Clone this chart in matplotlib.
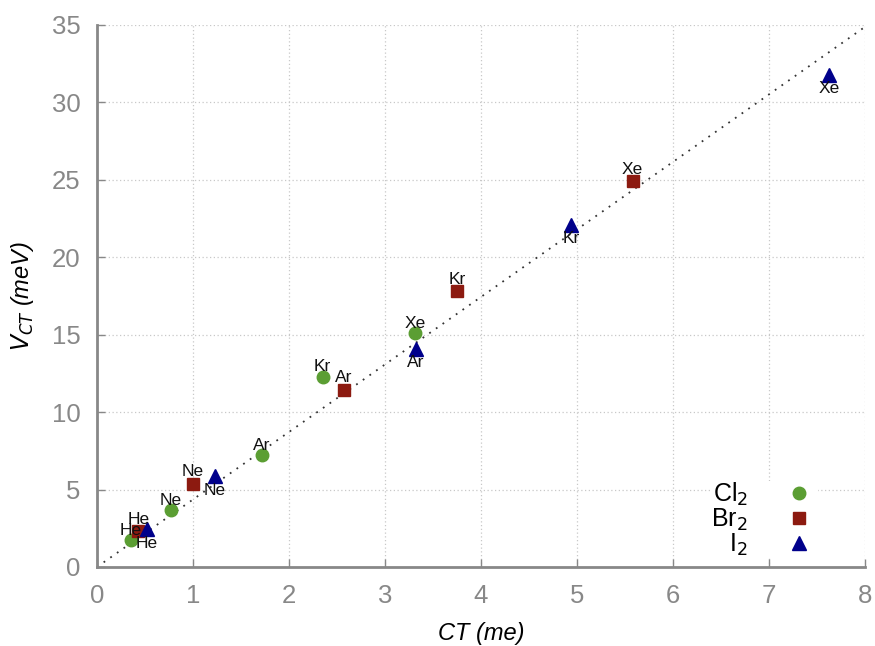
import numpy as np
import matplotlib.pyplot as plt

plt.rcParams['font.family'] = ['Liberation Sans', 'DejaVu Sans']

gases = ['He', 'Ne', 'Ar', 'Kr', 'Xe']

# coupling parameter CT (me) and V_CT (meV) for each halogen
cl2_ct = [0.35, 0.77, 1.72, 2.35, 3.31]
cl2_v = [1.74, 3.68, 7.23, 12.27, 15.1]

br2_ct = [0.43, 1.00, 2.57, 3.75, 5.58]
br2_v = [2.32, 5.36, 11.43, 17.8, 24.9]

i2_ct = [0.52, 1.23, 3.32, 4.94, 7.63]
i2_v = [2.45, 5.87, 14.1, 22.1, 31.8]

# linear fit through the origin
slope = 4.36

fig = plt.figure(figsize=(8.75, 6.46), dpi=100)
ax = fig.add_axes([97 / 875, 1 - 567 / 646, (865 - 97) / 875, (567 - 25) / 646])

xs = np.array([0, 8])
ax.plot(xs, slope * xs, ls=(0, (1, 3.5)), color='#333333', lw=1.3, zorder=1)

series = [
    (cl2_ct, cl2_v, 'o', '#5b9e33', 'Cl$_2$', 9, 10),
    (br2_ct, br2_v, 's', '#8c1a10', 'Br$_2$', 9, 12),
    (i2_ct, i2_v, '^', '#00008b', 'I$_2$', 10, -14),
]
for ct, v, m, c, lab, ms, dy in series:
    ax.plot(ct, v, m, color=c, ms=ms, ls='none', label=lab, zorder=3)
    for g, xx, yy in zip(gases, ct, v):
        ax.annotate(g, (xx, yy), xytext=(0, dy * 0.72), textcoords='offset points',
                    ha='center', va='center', fontsize=12.5, color='#111111', zorder=4)

ax.set_xlim(0, 8)
ax.set_ylim(0, 35)
ax.set_xticks(range(0, 9))
ax.set_yticks(range(0, 36, 5))
ax.grid(True, ls=(0, (1, 2)), color='#c8c8c8', lw=0.9)
ax.set_axisbelow(True)

for s in ['top', 'right']:
    ax.spines[s].set_visible(False)
for s in ['left', 'bottom']:
    ax.spines[s].set_color('#888888')
    ax.spines[s].set_linewidth(2)
    ax.spines[s].set_zorder(6)

ax.tick_params(direction='in', length=6, width=1, color='#888888',
               labelcolor='#888888', labelsize=18.5, pad=12)

ax.set_xlabel('CT (me)', fontsize=17, style='italic', labelpad=10)
ax.set_ylabel('$V_{CT}$ (meV)', fontsize=17, style='italic', labelpad=11)

leg = ax.legend(loc='lower right', bbox_to_anchor=(0.955, -0.006), markerfirst=False,
                frameon=True, fontsize=18, handletextpad=1.3, labelspacing=-0.05,
                borderpad=0.0, handlelength=1.5)
leg.get_frame().set_edgecolor('none')
leg.get_frame().set_facecolor('white')
leg.get_frame().set_alpha(1)
for t in leg.get_texts():
    t.set_ha('right')

fig.savefig('out.png', dpi=100)
